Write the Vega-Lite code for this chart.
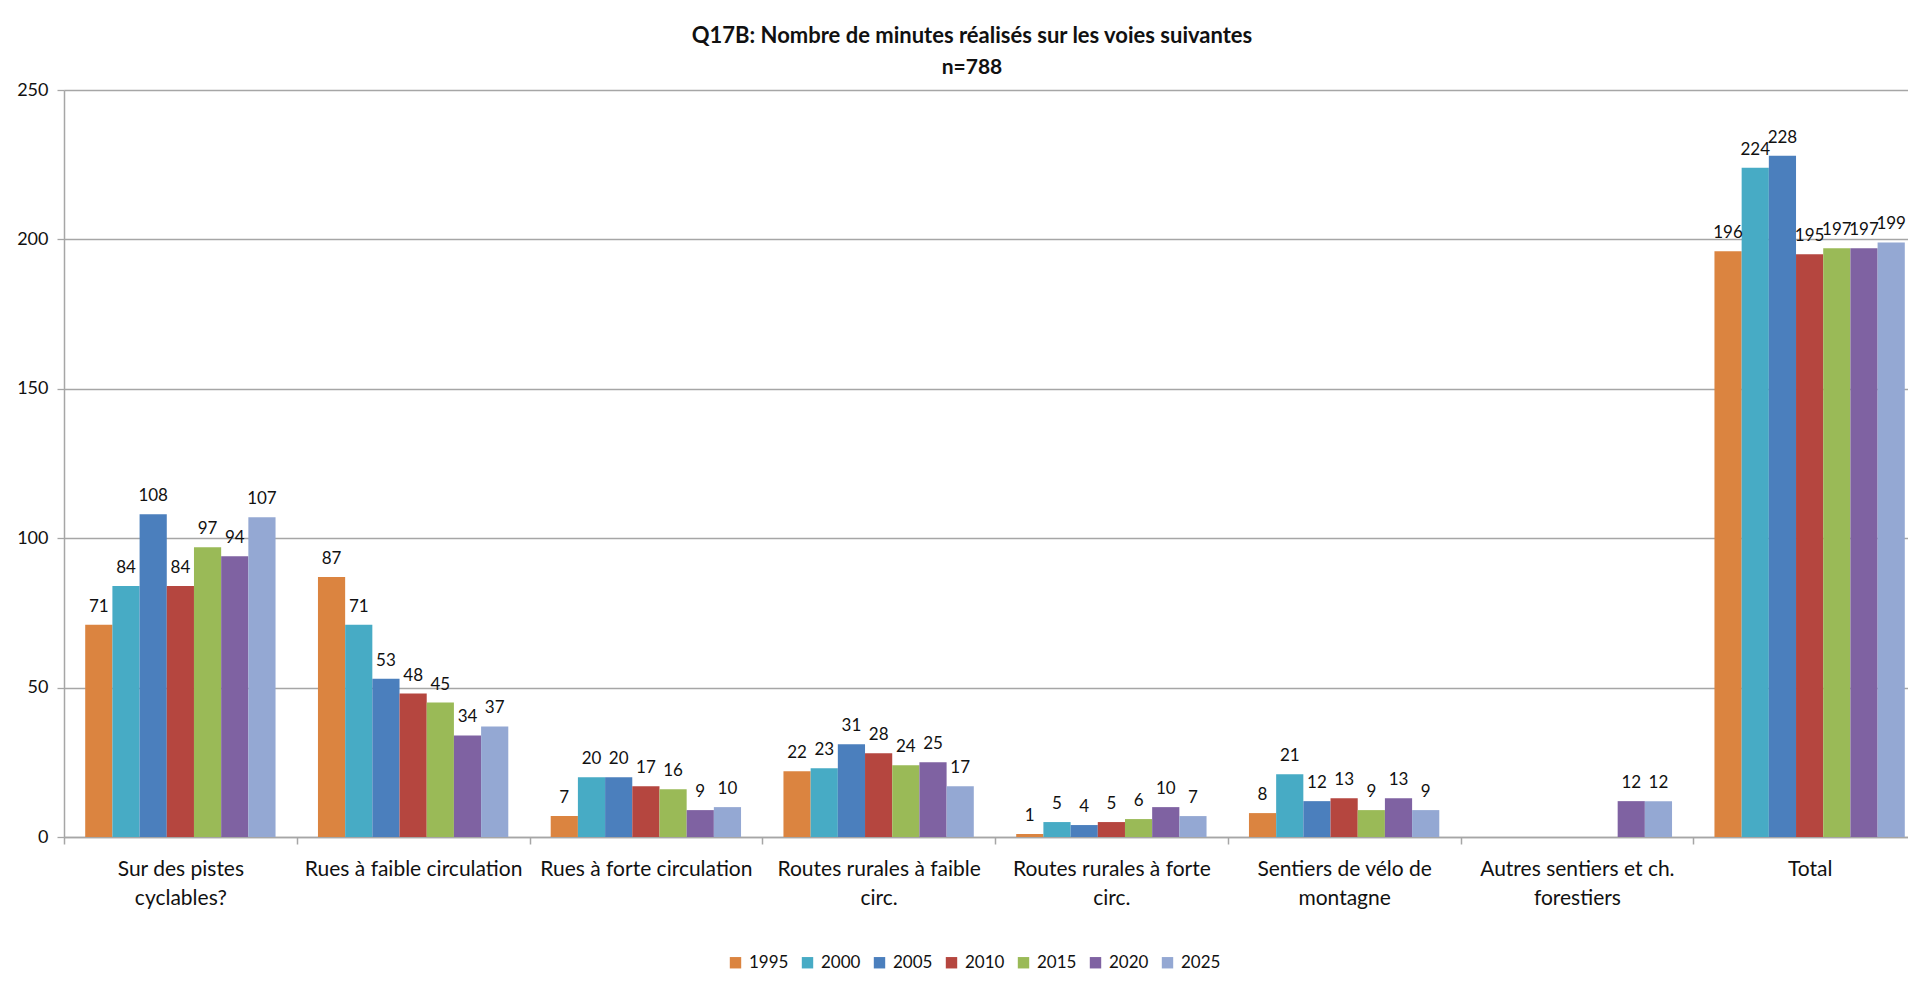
{
  "$schema": "https://vega.github.io/schema/vega-lite/v6.json",
  "autosize": {"type": "none"},
  "padding": {"left": 64, "top": 90, "right": 0, "bottom": 149},
  "width": 1844,
  "height": 747,
  "background": "white",
  "title": {
    "text": "Q17B: Nombre de minutes réalisés sur les  voies suivantes",
    "subtitle": "n=788",
    "anchor": "middle",
    "frame": "group",
    "dx": -14,
    "font": "Lato",
    "fontSize": 22,
    "fontWeight": "bold",
    "color": "#111111",
    "subtitleFont": "Lato",
    "subtitleFontSize": 21,
    "subtitleFontWeight": "bold",
    "subtitleColor": "#111111",
    "subtitlePadding": 9,
    "offset": 2
  },
  "data": {
    "values": [
      {"voie": "Sur des pistes cyclables?", "annee": "1995", "minutes": 71},
      {"voie": "Sur des pistes cyclables?", "annee": "2000", "minutes": 84},
      {"voie": "Sur des pistes cyclables?", "annee": "2005", "minutes": 108},
      {"voie": "Sur des pistes cyclables?", "annee": "2010", "minutes": 84},
      {"voie": "Sur des pistes cyclables?", "annee": "2015", "minutes": 97},
      {"voie": "Sur des pistes cyclables?", "annee": "2020", "minutes": 94},
      {"voie": "Sur des pistes cyclables?", "annee": "2025", "minutes": 107},
      {"voie": "Rues à faible circulation", "annee": "1995", "minutes": 87},
      {"voie": "Rues à faible circulation", "annee": "2000", "minutes": 71},
      {"voie": "Rues à faible circulation", "annee": "2005", "minutes": 53},
      {"voie": "Rues à faible circulation", "annee": "2010", "minutes": 48},
      {"voie": "Rues à faible circulation", "annee": "2015", "minutes": 45},
      {"voie": "Rues à faible circulation", "annee": "2020", "minutes": 34},
      {"voie": "Rues à faible circulation", "annee": "2025", "minutes": 37},
      {"voie": "Rues à forte circulation", "annee": "1995", "minutes": 7},
      {"voie": "Rues à forte circulation", "annee": "2000", "minutes": 20},
      {"voie": "Rues à forte circulation", "annee": "2005", "minutes": 20},
      {"voie": "Rues à forte circulation", "annee": "2010", "minutes": 17},
      {"voie": "Rues à forte circulation", "annee": "2015", "minutes": 16},
      {"voie": "Rues à forte circulation", "annee": "2020", "minutes": 9},
      {"voie": "Rues à forte circulation", "annee": "2025", "minutes": 10},
      {"voie": "Routes rurales à faible circ.", "annee": "1995", "minutes": 22},
      {"voie": "Routes rurales à faible circ.", "annee": "2000", "minutes": 23},
      {"voie": "Routes rurales à faible circ.", "annee": "2005", "minutes": 31},
      {"voie": "Routes rurales à faible circ.", "annee": "2010", "minutes": 28},
      {"voie": "Routes rurales à faible circ.", "annee": "2015", "minutes": 24},
      {"voie": "Routes rurales à faible circ.", "annee": "2020", "minutes": 25},
      {"voie": "Routes rurales à faible circ.", "annee": "2025", "minutes": 17},
      {"voie": "Routes rurales à forte circ.", "annee": "1995", "minutes": 1},
      {"voie": "Routes rurales à forte circ.", "annee": "2000", "minutes": 5},
      {"voie": "Routes rurales à forte circ.", "annee": "2005", "minutes": 4},
      {"voie": "Routes rurales à forte circ.", "annee": "2010", "minutes": 5},
      {"voie": "Routes rurales à forte circ.", "annee": "2015", "minutes": 6},
      {"voie": "Routes rurales à forte circ.", "annee": "2020", "minutes": 10},
      {"voie": "Routes rurales à forte circ.", "annee": "2025", "minutes": 7},
      {"voie": "Sentiers de vélo de montagne", "annee": "1995", "minutes": 8},
      {"voie": "Sentiers de vélo de montagne", "annee": "2000", "minutes": 21},
      {"voie": "Sentiers de vélo de montagne", "annee": "2005", "minutes": 12},
      {"voie": "Sentiers de vélo de montagne", "annee": "2010", "minutes": 13},
      {"voie": "Sentiers de vélo de montagne", "annee": "2015", "minutes": 9},
      {"voie": "Sentiers de vélo de montagne", "annee": "2020", "minutes": 13},
      {"voie": "Sentiers de vélo de montagne", "annee": "2025", "minutes": 9},
      {"voie": "Autres sentiers et ch. forestiers", "annee": "2020", "minutes": 12},
      {"voie": "Autres sentiers et ch. forestiers", "annee": "2025", "minutes": 12},
      {"voie": "Total", "annee": "1995", "minutes": 196},
      {"voie": "Total", "annee": "2000", "minutes": 224},
      {"voie": "Total", "annee": "2005", "minutes": 228},
      {"voie": "Total", "annee": "2010", "minutes": 195},
      {"voie": "Total", "annee": "2015", "minutes": 197},
      {"voie": "Total", "annee": "2020", "minutes": 197},
      {"voie": "Total", "annee": "2025", "minutes": 199}
    ]
  },
  "encoding": {
    "x": {
      "field": "voie",
      "type": "nominal",
      "sort": ["Sur des pistes cyclables?", "Rues à faible circulation", "Rues à forte circulation", "Routes rurales à faible circ.", "Routes rurales à forte circ.", "Sentiers de vélo de montagne", "Autres sentiers et ch. forestiers", "Total"],
      "scale": {"paddingInner": 0, "paddingOuter": 0, "range": [0, 1862]},
      "axis": {
        "title": null,
        "labelAngle": 0,
        "tickBand": "extent",
        "grid": false,
        "domainColor": "#a6a6a6",
        "domainWidth": 1.5,
        "tickColor": "#a6a6a6",
        "tickWidth": 1.5,
        "tickSize": 7,
        "labelFont": "Lato",
        "labelFontSize": 21,
        "labelColor": "#111111",
        "labelPadding": 14,
        "labelBaseline": "top",
        "labelLineHeight": 29,
        "labelLimit": 400,
        "labelExpr": "datum.value == 'Sur des pistes cyclables?' ? ['Sur des pistes', 'cyclables?'] : datum.value == 'Routes rurales à faible circ.' ? ['Routes rurales à faible', 'circ.'] : datum.value == 'Routes rurales à forte circ.' ? ['Routes rurales à forte', 'circ.'] : datum.value == 'Sentiers de vélo de montagne' ? ['Sentiers de vélo de', 'montagne'] : datum.value == 'Autres sentiers et ch. forestiers' ? ['Autres sentiers et ch.', 'forestiers'] : datum.value"
      }
    },
    "xOffset": {
      "field": "annee",
      "type": "nominal",
      "scale": {"paddingInner": 0, "paddingOuter": 0.78}
    },
    "y": {
      "field": "minutes",
      "type": "quantitative",
      "scale": {"domain": [0, 250], "nice": false},
      "axis": {
        "title": null,
        "values": [0, 50, 100, 150, 200, 250],
        "gridColor": "#a6a6a6",
        "gridWidth": 1.3,
        "domainColor": "#a6a6a6",
        "domainWidth": 1.5,
        "tickColor": "#a6a6a6",
        "tickSize": 7,
        "tickWidth": 1.3,
        "labelFont": "Lato",
        "labelFontSize": 18,
        "labelColor": "#111111",
        "labelPadding": 9
      }
    }
  },
  "layer": [
    {
      "mark": {"type": "bar"},
      "encoding": {
        "color": {
          "field": "annee",
          "type": "nominal",
          "scale": {
            "domain": ["1995", "2000", "2005", "2010", "2015", "2020", "2025"],
            "range": ["#DB8440", "#47ABC5", "#4B7FBD", "#B5463F", "#9ABA57", "#7F62A2", "#94A8D3"]
          },
          "legend": {
            "title": null,
            "orient": "none",
            "direction": "horizontal",
            "legendX": 663,
            "legendY": 864,
            "symbolType": "square",
            "symbolSize": 130,
            "symbolStrokeWidth": 0,
            "labelFont": "Lato",
            "labelFontSize": 17,
            "labelColor": "#111111",
            "labelOffset": 5,
            "columnPadding": 10
          }
        }
      }
    },
    {
      "mark": {"type": "text", "baseline": "bottom", "dy": -9, "font": "Lato", "fontSize": 17, "color": "#111111"},
      "encoding": {
        "text": {"field": "minutes", "type": "quantitative"}
      }
    }
  ],
  "config": {
    "view": {"stroke": null}
  }
}
